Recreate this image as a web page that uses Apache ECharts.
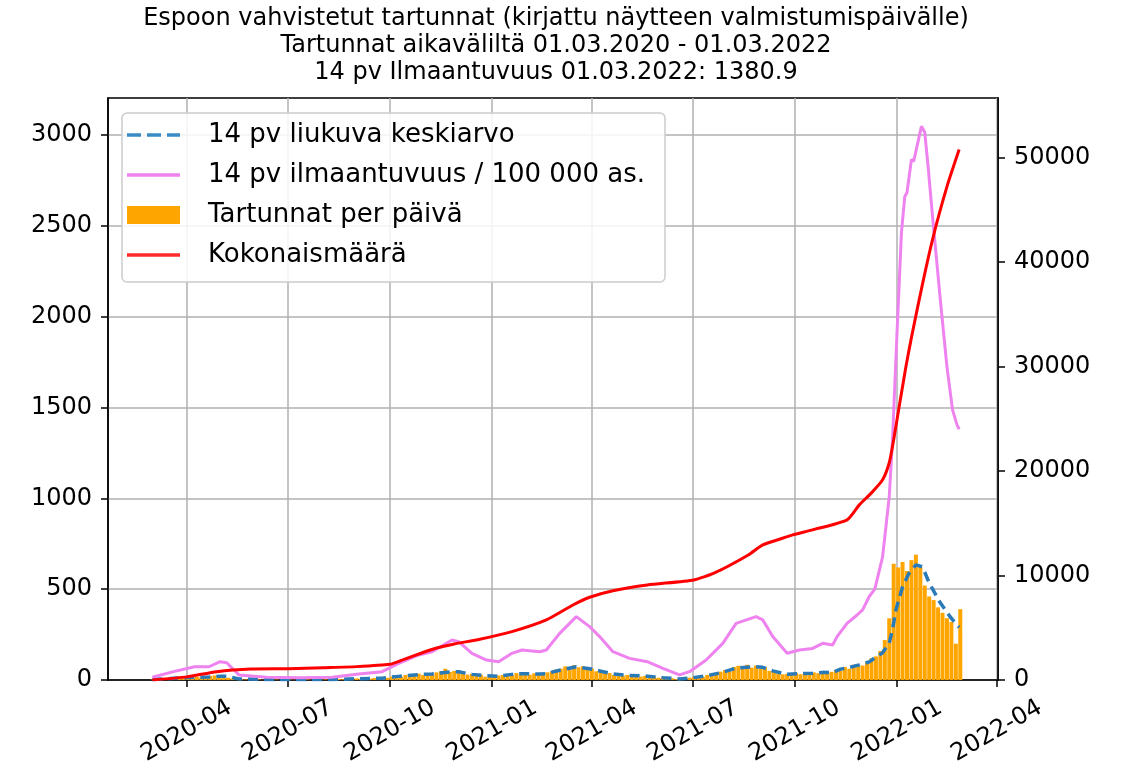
<!DOCTYPE html>
<html><head><meta charset="utf-8">
<script src="https://cdn.jsdelivr.net/npm/echarts@6/dist/echarts.min.js"></script>
<style>html,body{margin:0;padding:0;background:#fff}#c{width:1127px;height:777px}</style>
</head><body><div id="c"></div>
<script>
const titleLines = [
  'Espoon vahvistetut tartunnat (kirjattu näytteen valmistumispäivälle)',
  'Tartunnat aikaväliltä 01.03.2020 - 01.03.2022',
  '14 pv Ilmaantuvuus 01.03.2022: 1380.9'
];
const legendNames = ['14 pv liukuva keskiarvo', '14 pv ilmaantuvuus / 100 000 as.', 'Tartunnat per päivä', 'Kokonaismäärä'];
const xTickLabels = ['2020-04','2020-07','2020-10','2021-01','2021-04','2021-07','2021-10','2022-01','2022-04'];
const leftTicks = [0,500,1000,1500,2000,2500,3000];
const rightTicks = [0,10000,20000,30000,40000,50000];

// daily cases, one bar every 4 days starting 2020-03-01
const barStart = '2020-03-01';
const barStepDays = 4;
const barValues = [
  2,3,8,6,12,10,14,11,17,13,
  18,14,19,22,25,18,16,12,8,5,
  4,3,5,2,3,1,2,4,2,1,
  3,2,1,4,2,3,1,4,2,3,
  5,3,6,4,7,5,9,6,10,7,
  11,9,14,12,19,24,18,28,33,26,
  35,28,38,30,42,48,62,44,50,40,
  45,30,34,25,29,18,24,17,25,28,
  32,27,38,31,40,29,37,30,39,42,
  48,58,62,75,64,82,70,76,58,63,
  48,52,36,38,28,33,24,28,21,25,
  19,23,16,19,12,14,9,10,5,8,
  10,13,16,20,18,28,34,30,46,55,
  48,72,78,62,84,68,80,64,70,50,
  44,36,31,34,29,38,32,40,34,42,
  37,48,39,45,55,52,72,62,84,76,
  80,95,120,130,160,220,340,640,620,650,
  600,660,690,620,520,460,440,400,370,340,
  320,200,390
];

const maDates = ['2020-03-01','2020-03-20','2020-04-08','2020-04-21','2020-05-01','2020-05-07','2020-05-12','2020-05-18','2020-06-12','2020-07-13',
  '2020-08-10','2020-09-03','2020-09-24','2020-10-09','2020-10-27','2020-11-08','2020-11-26','2020-12-02','2020-12-14','2020-12-27',
  '2021-01-07','2021-01-19','2021-01-28','2021-02-13','2021-02-19','2021-03-03','2021-03-18','2021-03-30','2021-04-08','2021-04-20',
  '2021-05-05','2021-05-21','2021-06-04','2021-06-19','2021-06-28','2021-07-13','2021-07-28','2021-08-09','2021-08-27','2021-09-02',
  '2021-09-11','2021-09-24','2021-10-05','2021-10-17','2021-10-26','2021-11-04','2021-11-11','2021-11-17','2021-11-28','2021-12-07',
  '2021-12-13','2021-12-19','2021-12-25','2021-12-28','2021-12-31','2022-01-06','2022-01-12','2022-01-18','2022-01-24','2022-01-30',
  '2022-02-09','2022-02-18','2022-02-26'];
const maValues = [3,9,15,16,21,20,14,6,3,3,
  3,7,10,20,30,33,46,45,31,23,
  21,31,35,33,35,54,73,62,50,33,
  25,21,13,6,10,23,42,66,73,70,
  50,31,35,37,42,41,60,66,83,100,
  127,150,204,280,386,513,590,634,623,535,
  425,347,290];

const incDates = ['2020-03-01','2020-03-20','2020-04-08','2020-04-21','2020-05-01','2020-05-07','2020-05-12','2020-05-18','2020-06-12','2020-07-13',
  '2020-08-10','2020-09-03','2020-09-24','2020-10-09','2020-10-27','2020-11-08','2020-11-26','2020-12-02','2020-12-14','2020-12-27',
  '2021-01-07','2021-01-19','2021-01-28','2021-02-13','2021-02-19','2021-03-03','2021-03-18','2021-03-30','2021-04-08','2021-04-20',
  '2021-05-05','2021-05-21','2021-06-04','2021-06-19','2021-06-28','2021-07-13','2021-07-28','2021-08-09','2021-08-27','2021-09-02',
  '2021-09-11','2021-09-24','2021-10-05','2021-10-17','2021-10-26','2021-11-04','2021-11-08','2021-11-17','2021-11-26','2021-12-01',
  '2021-12-07','2021-12-12','2021-12-19','2021-12-25','2021-12-28','2022-01-01','2022-01-05','2022-01-08','2022-01-10','2022-01-14',
  '2022-01-16','2022-01-19','2022-01-23','2022-01-26','2022-01-29','2022-02-02','2022-02-09','2022-02-15','2022-02-20','2022-02-24',
  '2022-02-26'];
const incValues = [15,46,73,73,101,95,64,28,15,12,
  15,33,46,92,138,156,220,211,147,110,
  101,147,165,156,165,257,349,294,239,156,
  119,101,64,28,46,110,202,312,349,331,
  239,147,165,174,202,193,239,312,358,386,
  460,500,678,1009,1330,1913,2465,2663,2685,2867,
  2856,2939,3049,3016,2829,2553,2095,1726,1489,1406,
  1381];

const cumDates = ['2020-03-01','2020-04-01','2020-04-28','2020-05-29','2020-07-01','2020-08-02','2020-09-01','2020-10-01','2020-10-12','2020-10-29',
  '2020-11-12','2020-11-28','2020-12-21','2021-01-19','2021-02-19','2021-03-15','2021-03-30','2021-04-20','2021-05-21','2021-07-02',
  '2021-07-20','2021-08-20','2021-09-02','2021-09-17','2021-09-29','2021-10-17','2021-11-17','2021-11-28','2021-12-09','2021-12-19',
  '2021-12-25','2021-12-29','2022-01-09','2022-01-21','2022-02-02','2022-02-15','2022-02-26'];
const cumValues = [0,300,800,1050,1080,1180,1280,1500,1900,2560,
  3060,3450,3900,4630,5750,7180,7920,8550,9100,9580,
  10220,11970,12930,13470,13890,14370,15330,16760,17910,19160,
  20790,23000,29980,36400,42150,47220,50770];

const FONT = 'DejaVu Sans';
const DAY = 86400000;
function ts(s) { const p = s.split('-').map(Number); return Date.UTC(p[0], p[1] - 1, p[2] || 1); }
function fmtMonth(v) { const d = new Date(v); return d.getUTCFullYear() + '-' + String(d.getUTCMonth() + 1).padStart(2, '0'); }
const plain = v => String(v);
const pairs = (ds, vs) => ds.map((d, i) => [ts(d), vs[i]]);
const barData = barValues.map((v, i) => [ts(barStart) + i * barStepDays * DAY, v]);
const xTicks = xTickLabels.map(ts);

const ICON_SOLID = 'path://M0,0h53v3.5h-53z';
const ICON_DASH = 'path://M0,0h14v3.5h-14z M20,0h14v3.5h-14z M40,0h13v3.5h-13z';

const chart = echarts.init(document.getElementById('c'), null, { renderer: 'canvas' });
chart.setOption({
  animation: false,
  backgroundColor: '#fff',
  textStyle: { fontFamily: FONT },
  graphic: [{
    type: 'text', x: 556, y: 5,
    style: { text: titleLines.join('\n'), fontFamily: FONT, fontSize: 24, lineHeight: 27,
             align: 'center', verticalAlign: 'top', fill: '#000' }
  }],
  grid: { left: 108, right: 129, top: 98, bottom: 97, show: true, borderColor: '#000', borderWidth: 1.5, backgroundColor: 'transparent' },
  legend: {
    data: [
      { name: legendNames[0], icon: ICON_DASH },
      { name: legendNames[1], icon: ICON_SOLID },
      { name: legendNames[2], icon: 'rect' },
      { name: legendNames[3], icon: ICON_SOLID }
    ],
    orient: 'vertical', left: 122, top: 113, z: 20,
    itemWidth: 53, itemHeight: 18, itemGap: 14, padding: [9, 20, 14, 5],
    backgroundColor: 'rgba(255,255,255,0.85)', borderColor: '#cccccc', borderWidth: 1.5, borderRadius: 5,
    selectedMode: false,
    textStyle: { fontFamily: FONT, fontSize: 26, color: '#000', padding: [0, 0, 0, 23] }
  },
  xAxis: {
    type: 'value', min: ts('2020-01-21'), max: ts('2022-04-02'),
    axisLine: { show: true, onZero: false, lineStyle: { color: '#000', width: 1.5 } },
    axisTick: { show: true, length: 7, customValues: xTicks, lineStyle: { color: '#000', width: 1.5 } },
    axisLabel: { customValues: xTicks, formatter: fmtMonth, rotate: 30, align: 'center', verticalAlign: 'middle',
                 margin: 51, fontSize: 24, fontFamily: FONT, color: '#000' },
    splitLine: { show: true, lineStyle: { color: '#b0b0b0', width: 1.5 } }
  },
  yAxis: [{
    type: 'value', min: 0, max: 3205, position: 'left',
    axisLine: { show: true, lineStyle: { color: '#000', width: 1.5 } },
    axisTick: { show: true, length: 7, customValues: leftTicks, lineStyle: { color: '#000', width: 1.5 } },
    axisLabel: { customValues: leftTicks, formatter: plain, fontSize: 24, fontFamily: FONT, color: '#000', margin: 16 },
    splitLine: { show: true, lineStyle: { color: '#b0b0b0', width: 1.5 } }
  }, {
    type: 'value', min: 0, max: 55700, position: 'right',
    axisLine: { show: true, lineStyle: { color: '#000', width: 1.5 } },
    axisTick: { show: true, length: 7, customValues: rightTicks, lineStyle: { color: '#000', width: 1.5 } },
    axisLabel: { customValues: rightTicks, formatter: plain, fontSize: 24, fontFamily: FONT, color: '#000', margin: 16 },
    splitLine: { show: false }
  }],
  series: [{
    name: legendNames[2], type: 'bar', yAxisIndex: 0, data: barData, barWidth: 4, z: 1,
    itemStyle: { color: '#FFA500' }
  }, {
    name: legendNames[0], type: 'line', yAxisIndex: 0, data: pairs(maDates, maValues), symbol: 'none', z: 3,
    lineStyle: { color: '#2a7ab8', width: 3.5, type: [10, 6] }, itemStyle: { color: '#3a8ac4' }
  }, {
    name: legendNames[1], type: 'line', yAxisIndex: 0, data: pairs(incDates, incValues), symbol: 'none', z: 4,
    lineStyle: { color: '#EE82EE', width: 3 }, itemStyle: { color: '#EE82EE' }
  }, {
    name: legendNames[3], type: 'line', yAxisIndex: 1, data: pairs(cumDates, cumValues), symbol: 'none', z: 5,
    smooth: 0.2,
    lineStyle: { color: '#FF0000', width: 3 }, itemStyle: { color: '#FF2a2a' }
  }]
});
</script></body></html>
